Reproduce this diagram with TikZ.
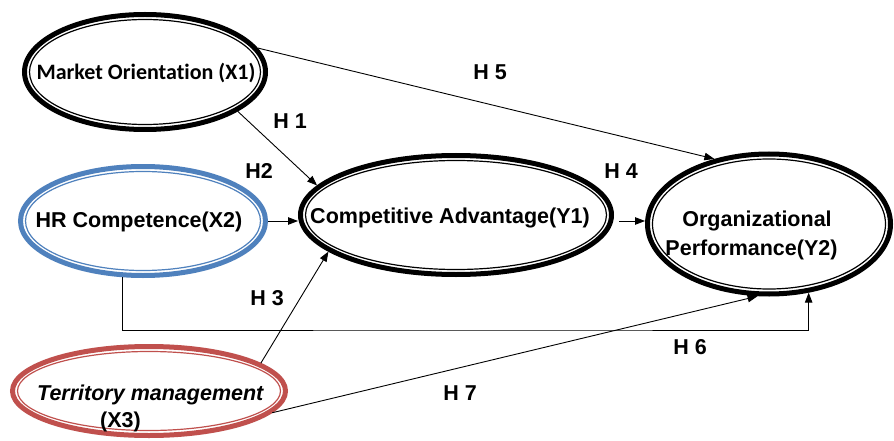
\documentclass[tikz,border=0pt]{standalone}
\usepackage{fontspec}
\setmainfont{Liberation Sans}
\newfontfamily\calib[Ligatures=NoCommon]{Carlito}
\usetikzlibrary{shapes.geometric,arrows.meta}
\definecolor{ringblue}{HTML}{4F81BD}
\definecolor{ringred}{HTML}{C0504D}
\tikzset{
  ring/.style={ellipse, draw=#1, line width=5pt, inner sep=0pt, outer sep=2.5pt},
  innerring/.style={draw=#1, line width=1.2pt},
  txt/.style={anchor=base, inner sep=0pt, font=\fontsize{21.5}{26}\selectfont\bfseries},
  hlab/.style={anchor=base, inner sep=0pt, font=\fontsize{21.5}{26}\selectfont\bfseries},
  arr/.style={-{Triangle[length=10pt,width=7.5pt]}, line width=0.9pt, draw=black},
}
\begin{document}
\begin{tikzpicture}[x=1pt,y=-1pt]
\useasboundingbox[fill=white] (0,0) rectangle (894,441);

% ellipses
\node[ring=black, minimum width=241pt, minimum height=115pt] (x1) at (145,72) {};
\draw[innerring=black] (x1.center) ellipse [x radius=115.5pt, y radius=52.5pt];
\node[ring=ringblue, minimum width=245pt, minimum height=109pt] (x2) at (143,221) {};
\draw[innerring=ringblue] (x2.center) ellipse [x radius=117.5pt, y radius=49.5pt];
\node[ring=ringred, minimum width=273pt, minimum height=89pt] (x3) at (149,391) {};
\draw[innerring=ringred] (x3.center) ellipse [x radius=131.5pt, y radius=39.5pt];
\node[ring=black, minimum width=311pt, minimum height=119pt] (y1) at (456,215) {};
\draw[innerring=black] (y1.center) ellipse [x radius=150.5pt, y radius=54.5pt];
\node[ring=black, minimum width=243pt, minimum height=140pt] (y2) at (769,224) {};
\draw[innerring=black] (y2.center) ellipse [x radius=116.5pt, y radius=65pt];

% texts
\node[txt, font=\fontsize{22}{26}\selectfont\calib\bfseries] (t1) at (146,80) {Market Orientation (X1)};
\node[txt] (t2) at (139,227) {HR Competence(X2)};
\node[txt] (t3) at (450,223) {Competitive Advantage(Y1)};
\node[txt] (t4a) at (757,226) {Organizational};
\node[txt] (t4b) at (751.5,255) {Performance(Y2)};
\node[txt, anchor=base west, font=\fontsize{21.5}{26}\selectfont\bfseries\itshape] (t5a) at (37,400) {Territory management};
\node[txt, anchor=base west] (t5b) at (100,427) {(X3)};

% hypothesis labels
\node[hlab] (h5) at (490,80) {H 5};
\node[hlab] (h1) at (290,129) {H 1};
\node[hlab] (h2) at (259,178) {H2};
\node[hlab] (h4) at (621,178) {H 4};
\node[hlab] (h3) at (267,305) {H 3};
\node[hlab] (h6) at (690,354) {H 6};
\node[hlab] (h7) at (460,400) {H 7};

% connectors
\draw[arr] (x1.12) -- (y2.130);
\draw[arr] (x1.-23) -- (y1.168);
\draw[arr] (x2.east) -- (x2.east -| y1.west);
\coordinate (y1r) at ([yshift=-6pt]y1.east);
\draw[arr, shorten <=5pt] (y1r) -- (y1r -| y2.west);
\coordinate (h6y) at (500,330);
\draw[arr] (x2.250) |- (h6y) -| (y2.-60);
\draw[arr] (x3.14) -- (y1.196);
\draw[arr] (x3.-10) -- (y2.261);
\end{tikzpicture}
\end{document}
